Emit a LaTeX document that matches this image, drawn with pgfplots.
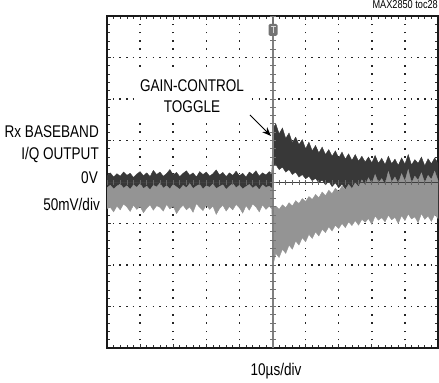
\documentclass[border=0pt]{standalone}
\usepackage{fontspec}
\setmainfont{Liberation Sans}[FakeStretch=0.8]
\usepackage{pgfplots}
\pgfplotsset{compat=1.18}
\usetikzlibrary{arrows.meta}
\begin{document}
\begin{tikzpicture}
\useasboundingbox (0,0) rectangle (439bp,383bp);
\begin{axis}[
  at={(107bp,35bp)}, anchor=south west,
  width=331bp, height=332bp, scale only axis,
  xmin=0, xmax=10, ymin=-4, ymax=4,
  xtick={0,...,10}, ytick={-4,...,4},
  xticklabels={}, yticklabels={},
  minor x tick num=4, minor y tick num=4,
  tick align=inside, major tick length=3.5bp, minor tick length=3bp,
  tick style={black!80, line width=0.7pt},
  axis line style={line width=1.8pt, black!90},
  clip=true,
]
% grid dots
\pgfplotsinvokeforeach{-3,-2,-1,1,2,3}{
  \draw[black!85, line width=1.5bp, dash pattern=on 1.5bp off 5.12bp, dash phase=0.75bp] (axis cs:0,#1) -- (axis cs:10,#1);
}
\pgfplotsinvokeforeach{1,2,3,4,6,7,8,9}{
  \draw[black!85, line width=1.5bp, dash pattern=on 1.5bp off 6.8bp, dash phase=0.75bp] (axis cs:#1,-4) -- (axis cs:#1,4);
}
% dark trace
\addplot[fill=black!78, draw=black!78, line width=0.4pt] coordinates {
(0.0,0.15)(0.1,0.22)(0.2,0.12)(0.3,0.20)(0.4,0.14)(0.5,0.24)(0.6,0.16)(0.7,0.21)(0.8,0.11)(0.9,0.19)
(1.0,0.25)(1.1,0.15)(1.2,0.22)(1.3,0.13)(1.4,0.28)(1.5,0.18)(1.6,0.24)(1.7,0.14)(1.8,0.20)(1.9,0.30)
(2.0,0.17)(2.1,0.23)(2.2,0.13)(2.3,0.21)(2.4,0.27)(2.5,0.16)(2.6,0.22)(2.7,0.12)(2.8,0.25)(2.9,0.18)
(3.0,0.24)(3.1,0.14)(3.2,0.20)(3.3,0.29)(3.4,0.17)(3.5,0.23)(3.6,0.13)(3.7,0.22)(3.8,0.16)(3.9,0.26)
(4.0,0.15)(4.1,0.21)(4.2,0.12)(4.3,0.24)(4.4,0.18)(4.5,0.27)(4.6,0.14)(4.7,0.22)(4.8,0.17)(4.9,0.25)
(4.98,0.20)(5.02,1.30)
(5.1,1.40)(5.2,1.16)(5.3,1.30)(5.4,1.05)(5.5,1.18)(5.6,0.95)(5.7,1.08)(5.8,0.90)(5.9,1.02)
(6.0,0.80)(6.1,0.96)(6.2,0.75)(6.3,0.88)(6.4,0.70)(6.5,0.84)(6.6,0.66)(6.7,0.78)(6.8,0.62)(6.9,0.75)
(7.0,0.58)(7.1,0.72)(7.2,0.55)(7.3,0.68)(7.4,0.52)(7.5,0.66)(7.6,0.50)(7.7,0.62)(7.8,0.48)(7.9,0.60)
(8.0,0.46)(8.1,0.64)(8.2,0.45)(8.3,0.57)(8.4,0.42)(8.5,0.62)(8.6,0.44)(8.7,0.55)(8.8,0.40)(8.9,0.58)
(9.0,0.43)(9.1,0.66)(9.2,0.41)(9.3,0.54)(9.4,0.45)(9.5,0.60)(9.6,0.39)(9.7,0.56)(9.8,0.44)(9.9,0.58)
(10.0,0.45)
(10.0,-0.30)(9.9,-0.22)(9.8,-0.35)(9.7,-0.25)(9.6,-0.32)(9.5,-0.20)(9.4,-0.34)(9.3,-0.24)(9.2,-0.30)(9.1,-0.19)
(9.0,-0.33)(8.9,-0.22)(8.8,-0.28)(8.7,-0.18)(8.6,-0.31)(8.5,-0.21)(8.4,-0.27)(8.3,-0.16)(8.2,-0.29)(8.1,-0.19)
(8.0,-0.24)(7.9,-0.14)(7.8,-0.25)(7.7,-0.12)(7.6,-0.22)(7.5,-0.10)(7.4,-0.20)(7.3,-0.08)(7.2,-0.17)(7.1,-0.05)
(7.0,-0.14)(6.9,-0.02)(6.8,-0.11)(6.7,0.02)(6.6,-0.07)(6.5,0.05)(6.4,-0.02)(6.3,0.09)(6.2,0.03)(6.1,0.14)
(6.0,0.08)(5.9,0.18)(5.8,0.12)(5.7,0.24)(5.6,0.18)(5.5,0.30)(5.4,0.24)(5.3,0.36)(5.2,0.30)(5.1,0.42)
(5.02,0.40)(4.98,-0.20)
(4.9,-0.26)(4.8,-0.18)(4.7,-0.24)(4.6,-0.15)(4.5,-0.28)(4.4,-0.21)(4.3,-0.17)(4.2,-0.25)(4.1,-0.19)
(4.0,-0.27)(3.9,-0.16)(3.8,-0.23)(3.7,-0.20)(3.6,-0.29)(3.5,-0.18)(3.4,-0.24)(3.3,-0.15)(3.2,-0.26)(3.1,-0.21)
(3.0,-0.17)(2.9,-0.25)(2.8,-0.19)(2.7,-0.28)(2.6,-0.16)(2.5,-0.23)(2.4,-0.20)(2.3,-0.27)(2.2,-0.18)(2.1,-0.24)
(2.0,-0.15)(1.9,-0.26)(1.8,-0.21)(1.7,-0.17)(1.6,-0.25)(1.5,-0.19)(1.4,-0.28)(1.3,-0.16)(1.2,-0.23)(1.1,-0.20)
(1.0,-0.27)(0.9,-0.18)(0.8,-0.24)(0.7,-0.15)(0.6,-0.26)(0.5,-0.21)(0.4,-0.17)(0.3,-0.25)(0.2,-0.19)(0.1,-0.28)
(0.0,-0.20)
} --cycle;
% gray trace
\addplot[fill=black!42, draw=black!42, line width=0.4pt] coordinates {
(0.0,-0.14)(0.1,-0.08)(0.2,-0.17)(0.3,-0.10)(0.4,-0.05)(0.5,-0.15)(0.6,-0.09)(0.7,-0.18)(0.8,-0.07)(0.9,-0.13)
(1.0,-0.04)(1.1,-0.16)(1.2,-0.10)(1.3,-0.19)(1.4,-0.08)(1.5,-0.12)(1.6,-0.03)(1.7,-0.15)(1.8,-0.09)(1.9,-0.17)
(2.0,-0.06)(2.1,-0.12)(2.2,-0.18)(2.3,-0.08)(2.4,-0.14)(2.5,-0.04)(2.6,-0.16)(2.7,-0.10)(2.8,-0.06)(2.9,-0.17)
(3.0,-0.09)(3.1,-0.13)(3.2,-0.05)(3.3,-0.16)(3.4,-0.11)(3.5,-0.07)(3.6,-0.18)(3.7,-0.10)(3.8,-0.04)(3.9,-0.14)
(4.0,-0.08)(4.1,-0.17)(4.2,-0.11)(4.3,-0.06)(4.4,-0.15)(4.5,-0.09)(4.6,-0.19)(4.7,-0.07)(4.8,-0.13)(4.9,-0.10)
(4.98,-0.15)(5.02,-0.62)
(5.1,-0.58)(5.2,-0.66)(5.3,-0.55)(5.4,-0.62)(5.5,-0.50)(5.6,-0.58)(5.7,-0.45)(5.8,-0.52)(5.9,-0.40)
(6.0,-0.47)(6.1,-0.35)(6.2,-0.42)(6.3,-0.30)(6.4,-0.38)(6.5,-0.24)(6.6,-0.33)(6.7,-0.20)(6.8,-0.28)(6.9,-0.15)
(7.0,-0.23)(7.1,-0.10)(7.2,-0.19)(7.3,-0.06)(7.4,-0.16)(7.5,-0.02)(7.6,-0.12)(7.7,0.05)(7.8,-0.08)(7.9,0.10)
(8.0,-0.05)(8.1,0.18)(8.2,-0.02)(8.3,0.08)(8.4,-0.06)(8.5,0.25)(8.6,0.00)(8.7,0.12)(8.8,-0.04)(8.9,0.20)
(9.0,0.02)(9.1,0.30)(9.2,-0.03)(9.3,0.14)(9.4,0.04)(9.5,0.22)(9.6,-0.02)(9.7,0.16)(9.8,0.06)(9.9,0.26)
(10.0,0.03)
(10.0,-0.88)(9.9,-0.78)(9.8,-0.95)(9.7,-0.82)(9.6,-0.90)(9.5,-0.76)(9.4,-0.98)(9.3,-0.84)(9.2,-0.89)(9.1,-0.77)
(9.0,-0.93)(8.9,-0.81)(8.8,-1.00)(8.7,-0.85)(8.6,-0.91)(8.5,-0.80)(8.4,-0.96)(8.3,-0.86)(8.2,-0.92)(8.1,-0.82)
(8.0,-1.02)(7.9,-0.88)(7.8,-0.97)(7.7,-0.90)(7.6,-1.04)(7.5,-0.93)(7.4,-1.05)(7.3,-0.96)(7.2,-1.10)(7.1,-1.00)
(7.0,-1.12)(6.9,-1.04)(6.8,-1.18)(6.7,-1.08)(6.6,-1.22)(6.5,-1.14)(6.4,-1.30)(6.3,-1.20)(6.2,-1.36)(6.1,-1.26)
(6.0,-1.44)(5.9,-1.34)(5.8,-1.52)(5.7,-1.42)(5.6,-1.62)(5.5,-1.52)(5.4,-1.72)(5.3,-1.62)(5.2,-1.82)(5.1,-1.72)
(5.02,-1.98)(4.98,-0.65)
(4.9,-0.58)(4.8,-0.66)(4.7,-0.55)(4.6,-0.72)(4.5,-0.60)(4.4,-0.53)(4.3,-0.68)(4.2,-0.57)(4.1,-0.75)
(4.0,-0.62)(3.9,-0.54)(3.8,-0.67)(3.7,-0.59)(3.6,-0.70)(3.5,-0.56)(3.4,-0.64)(3.3,-0.78)(3.2,-0.58)(3.1,-0.66)
(3.0,-0.55)(2.9,-0.69)(2.8,-0.61)(2.7,-0.52)(2.6,-0.73)(2.5,-0.60)(2.4,-0.67)(2.3,-0.56)(2.2,-0.64)(2.1,-0.76)
(2.0,-0.58)(1.9,-0.65)(1.8,-0.54)(1.7,-0.70)(1.6,-0.61)(1.5,-0.57)(1.4,-0.68)(1.3,-0.55)(1.2,-0.63)(1.1,-0.74)
(1.0,-0.59)(0.9,-0.66)(0.8,-0.56)(0.7,-0.71)(0.6,-0.60)(0.5,-0.53)(0.4,-0.67)(0.3,-0.58)(0.2,-0.72)(0.1,-0.61)
(0.0,-0.64)
} --cycle;
% centre horizontal line with ticks
\draw[black!75, line width=0.6pt] (axis cs:0,0) -- (axis cs:10,0);
\draw[black!60, line width=5bp, dash pattern=on 0.7bp off 5.92bp, dash phase=0.35bp] (axis cs:0,0) -- (axis cs:10,0);
% trigger vertical line with ticks
\draw[black!50, line width=2bp] (axis cs:5,-4) -- (axis cs:5,4);
\draw[black!55, line width=6bp, dash pattern=on 0.8bp off 7.5bp, dash phase=0.4bp] (axis cs:5,-4) -- (axis cs:5,4);
\end{axis}
% white box behind the annotation
\fill[white] (134bp,264bp) rectangle (249bp,314bp);
% trigger marker
\draw[black!55, line width=1.2bp] (273bp,367bp) -- (273bp,355bp);
\fill[black!55, rounded corners=1.5bp] (268.5bp,347bp) rectangle (277.5bp,359bp);
\draw[white!85!black, line width=1bp] (270.5bp,356.5bp) -- (275.5bp,356.5bp) (273bp,356.5bp) -- (273bp,349.5bp);
% texts
\node[anchor=base east, font=\fontsize{11.5}{13}\selectfont, inner sep=0pt] at (438bp,374bp) {MAX2850 toc28};
\node[anchor=base east, font=\fontsize{17}{20}\selectfont, inner sep=0pt] at (99bp,245bp) {Rx BASEBAND};
\node[anchor=base east, font=\fontsize{17}{20}\selectfont, inner sep=0pt] at (99bp,223bp) {I/Q OUTPUT};
\node[anchor=base east, font=\fontsize{17}{20}\selectfont, inner sep=0pt] at (98bp,199bp) {0V};
\node[anchor=base east, font=\fontsize{17}{20}\selectfont, inner sep=0pt] at (100bp,172bp) {50mV/div};
\node[anchor=base, font=\fontsize{17}{20}\selectfont, inner sep=0pt] at (276bp,8bp) {10µs/div};
\node[anchor=base, font=\fontsize{17}{20}\selectfont, inner sep=0pt] at (192bp,291bp) {GAIN-CONTROL};
\node[anchor=base, font=\fontsize{17}{20}\selectfont, inner sep=0pt] at (192bp,270bp) {TOGGLE};
\draw[-{Stealth[length=9bp,width=7bp]}, line width=1bp] (250bp,268bp) -- (271bp,247bp);
\end{tikzpicture}
\end{document}
